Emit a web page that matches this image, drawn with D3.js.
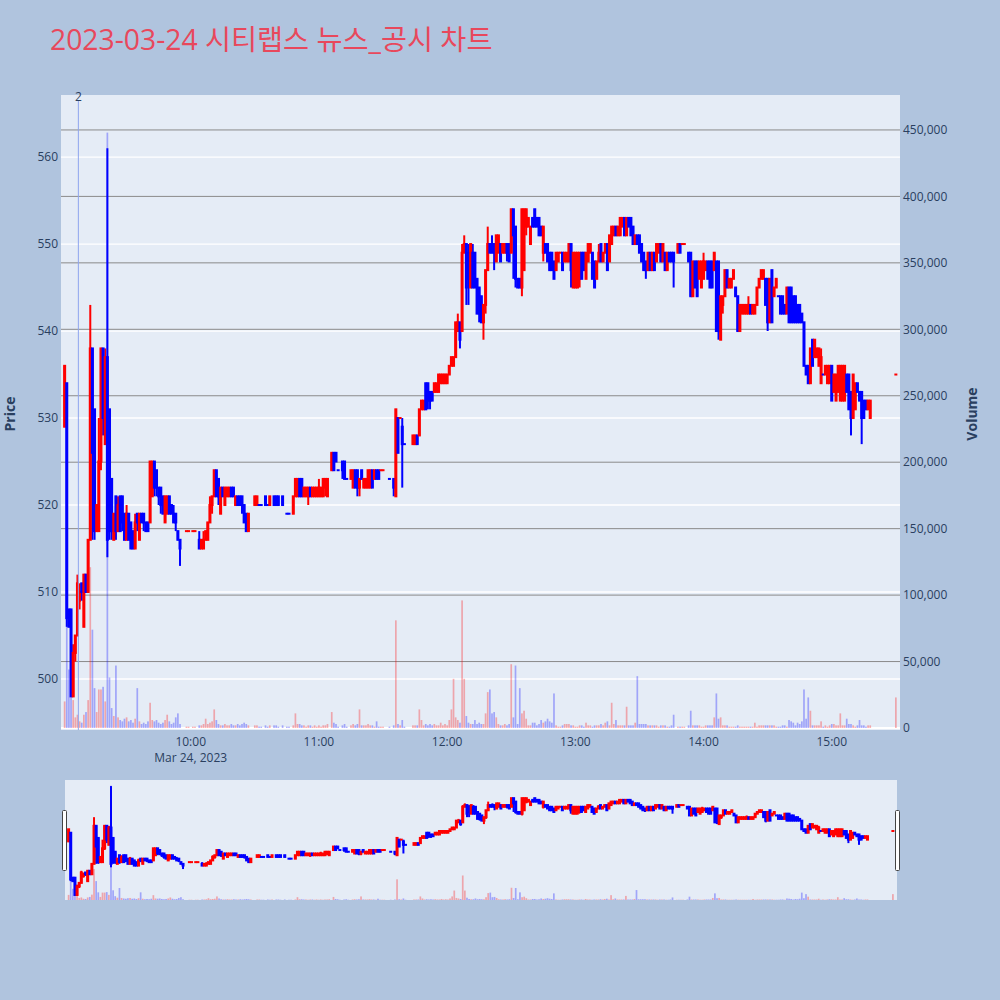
<!DOCTYPE html>
<html>
<head>
<meta charset="utf-8">
<script src="https://cdn.jsdelivr.net/npm/d3@7"></script>
<style>
  html, body { margin: 0; padding: 0; background: #b0c4de; }
  svg { display: block; font-family: "Open Sans", "Noto Sans CJK KR", sans-serif; }
</style>
</head>
<body>
<svg id="chart" width="1000" height="1000"></svg>
<script>
// ---------------- DATA ----------------
const chartTitle = "2023-03-24 시티랩스 뉴스_공시 차트";
const tradeDate = "2023-03-24";

const times = [
  "09:01","09:02","09:03","09:04","09:05","09:06","09:07","09:08","09:09","09:10",
  "09:11","09:12","09:13","09:14","09:15","09:16","09:17","09:18","09:19","09:20",
  "09:21","09:22","09:23","09:24","09:25","09:26","09:27","09:28","09:29","09:30",
  "09:31","09:32","09:33","09:34","09:35","09:36","09:37","09:38","09:39","09:40",
  "09:41","09:42","09:43","09:44","09:45","09:46","09:47","09:48","09:49","09:50",
  "09:51","09:52","09:53","09:54","09:55","09:58","09:59","10:01","10:02","10:04",
  "10:05","10:06","10:07","10:08","10:09","10:10","10:11","10:12","10:13","10:14",
  "10:15","10:16","10:17","10:18","10:19","10:20","10:21","10:22","10:23","10:24",
  "10:25","10:26","10:27","10:30","10:31","10:32","10:33","10:35","10:36","10:37",
  "10:39","10:40","10:41","10:43","10:45","10:46","10:48","10:49","10:50","10:51",
  "10:52","10:53","10:54","10:55","10:56","10:57","10:58","10:59","11:00","11:01",
  "11:02","11:03","11:04","11:06","11:07","11:08","11:09","11:11","11:12","11:13",
  "11:15","11:16","11:17","11:18","11:19","11:20","11:21","11:22","11:23","11:24",
  "11:25","11:26","11:27","11:28","11:29","11:30","11:33","11:35","11:36","11:37",
  "11:38","11:39","11:40","11:44","11:45","11:46","11:47","11:48","11:49","11:50",
  "11:51","11:52","11:53","11:54","11:55","11:56","11:57","11:58","11:59","12:00",
  "12:01","12:02","12:03","12:04","12:05","12:06","12:07","12:08","12:09","12:10",
  "12:11","12:12","12:13","12:14","12:15","12:16","12:17","12:18","12:19","12:20",
  "12:21","12:22","12:23","12:24","12:25","12:26","12:27","12:28","12:29","12:30",
  "12:31","12:32","12:33","12:34","12:35","12:36","12:37","12:38","12:39","12:40",
  "12:41","12:42","12:43","12:44","12:45","12:46","12:47","12:48","12:49","12:50",
  "12:51","12:52","12:53","12:54","12:55","12:56","12:57","12:58","12:59","13:00",
  "13:01","13:02","13:03","13:04","13:05","13:06","13:07","13:08","13:09","13:10",
  "13:11","13:12","13:13","13:14","13:15","13:16","13:17","13:18","13:19","13:20",
  "13:21","13:22","13:23","13:24","13:25","13:26","13:27","13:28","13:29","13:30",
  "13:31","13:32","13:33","13:34","13:35","13:36","13:37","13:38","13:39","13:40",
  "13:41","13:42","13:43","13:44","13:45","13:46","13:48","13:49","13:50","13:51",
  "13:53","13:54","13:55","13:56","13:57","13:58","13:59","14:00","14:01","14:02",
  "14:03","14:04","14:05","14:06","14:07","14:08","14:09","14:10","14:11","14:12",
  "14:13","14:14","14:15","14:16","14:17","14:18","14:19","14:20","14:21","14:22",
  "14:23","14:24","14:25","14:26","14:27","14:28","14:29","14:30","14:31","14:32",
  "14:33","14:34","14:35","14:36","14:37","14:38","14:39","14:40","14:41","14:42",
  "14:43","14:44","14:45","14:46","14:47","14:48","14:49","14:50","14:51","14:52",
  "14:53","14:54","14:55","14:56","14:57","14:58","14:59","15:00","15:01","15:02",
  "15:03","15:04","15:05","15:06","15:07","15:08","15:09","15:10","15:11","15:12",
  "15:13","15:14","15:15","15:16","15:17","15:18","15:30"
];

const open = [
  529,534,508,508,498,503,505,509,511,506,
  512,510,516,538,531,517,517,525,538,527,
  537,531,523,516,521,517,521,521,519,516,
  519,518,517,515,519,516,519,519,518,518,
  518,521,525,524,522,522,521,518,519,521,
  520,519,519,517,516,517,517,517,517,516,
  515,515,516,516,518,520,521,524,523,519,
  522,520,521,521,522,522,520,521,521,521,
  520,519,517,520,520,520,520,521,520,520,
  521,521,521,521,519,519,519,521,521,523,
  523,521,521,521,522,521,521,521,521,521,
  521,522,521,524,526,526,524,525,525,523,
  523,522,524,524,522,524,522,522,522,522,
  524,523,524,524,524,524,523,523,521,530,
  530,529,527,527,527,528,528,531,531,534,
  534,533,533,533,533,533,534,534,534,534,
  535,536,536,537,540,541,540,549,550,549,
  545,549,549,546,545,544,541,543,547,550,
  550,550,548,549,550,549,549,550,550,549,
  554,552,546,546,545,547,552,552,550,553,
  554,553,553,552,549,550,550,549,549,548,
  547,548,549,549,548,548,548,550,545,545,
  545,546,549,549,546,548,549,549,548,546,
  548,550,548,549,550,548,550,551,552,551,
  551,552,553,551,553,553,552,550,551,551,
  550,549,548,547,549,547,549,548,549,550,
  548,549,547,549,549,549,549,550,550,550,
  549,549,544,548,548,546,545,546,547,548,
  548,548,547,548,548,539,543,544,547,545,
  545,546,545,544,540,542,542,542,542,543,
  542,542,543,545,546,546,546,546,541,547,
  544,545,544,544,544,543,542,545,545,544,
  544,543,543,542,541,536,536,534,539,537,
  537,536,534,535,535,534,534,536,533,532,
  533,532,532,532,535,535,533,530,531,534,
  533,533,532,532,531,530,535
];

const high = [
  536,534,508,508,504,505,512,511,511,512,
  512,516,543,538,531,520,530,538,538,538,
  561,531,523,519,521,521,521,521,519,520,
  519,518,517,519,519,519,519,519,518,518,
  525,525,525,524,522,522,521,521,521,521,
  520,520,519,517,516,517,517,517,517,517,
  516,517,517,518,521,521,524,524,523,522,
  522,522,522,522,522,522,521,521,521,521,
  520,519,519,521,521,520,520,521,520,521,
  521,521,521,521,519,519,521,523,523,523,
  523,522,522,522,522,522,522,522,523,522,
  523,523,523,526,526,526,524,525,525,523,
  524,524,524,524,523,524,523,523,524,524,
  524,524,524,524,524,524,523,523,531,530,
  530,530,527,528,528,528,531,532,532,534,
  534,533,533,534,534,535,535,535,535,535,
  536,537,537,541,542,541,550,551,550,550,
  550,550,549,546,545,544,543,547,552,550,
  551,550,551,551,550,550,550,550,550,554,
  554,552,546,546,554,554,554,553,552,553,
  554,553,553,552,552,550,550,549,549,548,
  549,549,549,549,549,549,550,550,549,549,
  549,549,549,549,549,550,550,549,548,548,
  550,550,549,550,550,551,552,552,552,552,
  553,553,553,553,553,553,552,551,551,551,
  550,549,548,549,549,549,549,550,550,550,
  550,549,549,549,549,549,550,550,550,550,
  549,549,548,548,548,548,548,549,548,548,
  548,548,549,548,548,544,544,547,547,546,
  546,547,545,544,543,543,543,543,544,543,
  543,543,545,546,547,547,546,546,546,547,
  545,546,544,544,544,543,545,545,545,544,
  544,543,543,542,541,536,536,538,539,539,
  538,538,538,535,536,536,536,536,535,535,
  536,536,536,536,535,535,533,535,534,534,
  533,533,532,532,532,532,535
];

const low = [
  529,506,506,498,498,502,505,508,509,506,
  510,510,516,516,516,517,517,524,528,527,
  514,516,516,516,516,517,517,517,516,516,
  516,515,515,515,517,516,518,517,517,517,
  518,521,521,521,520,519,519,518,519,519,
  519,518,517,516,513,517,517,517,517,515,
  515,515,516,516,518,519,521,521,520,519,
  521,520,521,521,521,521,520,520,520,519,
  518,517,517,520,520,520,520,520,520,520,
  520,520,520,520,519,519,519,521,521,521,
  521,521,521,520,521,521,521,521,521,521,
  521,521,521,524,524,525,524,523,523,523,
  523,522,522,521,521,523,522,522,522,522,
  522,523,523,523,524,524,523,521,521,526,
  530,522,527,527,527,527,528,531,531,531,
  531,531,532,533,533,533,534,534,534,534,
  535,536,536,537,540,538,540,549,543,543,
  545,545,545,542,541,541,539,542,547,549,
  549,547,548,549,548,549,549,548,548,549,
  546,545,545,545,544,547,551,552,550,552,
  552,552,551,551,548,549,548,547,547,546,
  547,548,549,547,548,548,548,545,545,545,
  545,545,546,547,546,548,549,546,545,546,
  548,548,548,549,547,548,550,551,551,551,
  551,552,551,551,552,551,550,550,550,549,
  548,547,546,547,547,547,547,548,549,548,
  548,547,547,548,548,545,549,549,550,550,
  548,544,544,545,544,546,545,546,547,546,
  545,545,547,540,539,539,542,544,545,545,
  545,546,544,540,540,542,542,542,542,542,
  542,542,543,545,546,546,543,540,541,541,
  544,545,544,542,542,542,542,541,541,541,
  541,541,541,541,536,535,534,534,536,537,
  537,536,534,535,535,534,534,532,533,532,
  533,532,532,532,533,531,528,530,531,533,
  532,527,530,531,531,530,535
];

const close = [
  536,507,506,498,503,505,511,510,510,512,
  510,516,538,526,517,520,525,538,530,537,
  516,517,517,519,517,520,517,518,516,519,
  516,515,515,518,518,519,518,518,517,517,
  525,525,522,522,521,520,519,521,521,519,
  519,518,518,516,515,517,517,517,517,515,
  516,516,517,518,520,521,524,521,521,522,
  521,522,522,522,521,521,521,520,520,520,
  518,517,519,521,521,520,520,520,520,521,
  520,520,520,520,519,519,521,523,523,521,
  521,522,522,522,521,522,522,522,522,522,
  523,523,523,526,524,525,524,524,523,523,
  524,524,522,522,523,523,523,523,524,524,
  522,524,523,523,524,524,523,522,531,526,
  530,527,527,528,528,527,531,532,532,531,
  532,532,532,534,534,535,535,535,535,535,
  536,537,537,541,541,539,549,550,545,546,
  550,545,545,542,542,541,543,547,550,549,
  549,549,551,551,548,550,550,549,548,554,
  551,546,545,545,554,554,554,553,552,552,
  552,552,551,551,552,549,548,547,547,546,
  549,549,549,547,549,549,550,547,549,549,
  549,549,546,547,549,550,550,546,545,548,
  549,548,549,550,547,551,552,552,551,552,
  553,553,551,553,552,551,550,551,550,549,
  548,547,547,549,547,549,547,550,550,548,
  550,547,549,548,548,548,550,549,550,550,
  548,544,548,545,544,548,548,548,548,546,
  545,545,549,540,540,544,544,547,545,546,
  546,547,544,540,543,543,543,543,543,542,
  543,543,545,546,547,547,543,541,546,541,
  545,546,544,542,542,542,545,541,541,541,
  541,541,541,541,536,535,534,538,536,539,
  538,538,537,535,536,536,536,532,535,535,
  536,536,536,536,533,531,530,535,534,533,
  532,530,530,531,532,532,535
];

const volume = [
  20000,113000,44000,23000,21000,8000,10000,5000,4000,10000,
  12000,21000,121000,74000,30000,12000,29000,29000,31000,20000,
  448000,38000,15000,9000,47000,8000,6000,5000,7000,8000,
  5000,6000,4000,7000,30000,5000,3000,4000,3000,5000,
  19000,6000,5000,6000,4000,3000,4000,6000,10000,5000,
  3000,4000,8000,11000,3000,1000,1000,1000,1000,2000,
  2000,3000,7000,3000,4000,5000,14000,6000,3000,2000,
  2000,3000,2000,2000,3000,2000,2000,3000,2000,3000,
  4000,3000,2000,2000,2000,1000,1000,2000,1000,2000,
  2000,2000,1000,2000,1000,1000,2000,11000,3000,3000,
  2000,2000,1000,2000,2000,1000,2000,1000,2000,1000,
  2000,2000,3000,12000,4000,3000,1000,2000,3000,1000,
  2000,3000,2000,3000,14000,2000,2000,2000,3000,2000,
  2000,1000,5000,1000,1000,1000,1000,2000,81000,3000,
  2000,6000,1000,2000,2000,2000,14000,6000,2000,3000,
  2000,3000,2000,3000,2000,2000,4000,2000,3000,2000,
  6000,14000,37000,8000,6000,4000,96000,37000,9000,4000,
  3000,3000,6000,3000,4000,3000,3000,11000,27000,29000,
  11000,12000,8000,3000,2000,2000,3000,2000,3000,48000,
  8000,47000,3000,30000,11000,13000,7000,2000,2000,4000,
  4000,2000,3000,6000,4000,5000,7000,5000,4000,26000,
  2000,1000,1000,2000,3000,3000,3000,2000,2000,1000,
  1000,2000,2000,1000,4000,2000,2000,1000,2000,2000,
  2000,3000,2000,4000,5000,2000,19000,3000,6000,2000,
  2000,2000,2000,16000,2000,2000,2000,4000,39000,3000,
  3000,3000,3000,2000,2000,2000,2000,2000,1000,2000,
  2000,2000,1000,1000,2000,10000,1000,1000,1000,1000,
  2000,13000,2000,2000,2000,2000,1000,1000,2000,2000,
  2000,2000,8000,26000,7000,8000,2000,2000,2000,1000,
  1000,1000,1000,2000,1000,1000,1000,1000,1000,1000,
  1000,4000,1000,2000,2000,2000,2000,2000,2000,2000,
  2000,1000,1000,1000,2000,2000,1000,6000,5000,4000,
  2000,4000,3000,5000,29000,7000,23000,13000,2000,2000,
  2000,2000,5000,1000,2000,1000,2000,3000,3000,2000,
  2000,11000,2000,2000,7000,3000,3000,2000,1000,2000,
  6000,2000,2000,1000,2000,2000,23000
];

const newsTimes = ["09:07:25"];
const newsLabels = ["2"];

const priceTicks = [500, 510, 520, 530, 540, 550, 560];
const volumeTicks = [0, 50000, 100000, 150000, 200000, 250000, 300000, 350000, 400000, 450000];
const timeTicks = ["10:00", "11:00", "12:00", "13:00", "14:00", "15:00"];

// ---------------- DRAWING ----------------
const W = 1000, H = 1000;
const plot = { l: 61, r: 900, t: 95, b: 730 };
const slider = { l: 65, r: 897, t: 780, b: 900 };
const INC = "#ff0000", DEC = "#0000ff";
const txt = "#2a3f5f";

const parseM = d3.timeParse("%Y-%m-%d %H:%M");
const parseS = d3.timeParse("%Y-%m-%d %H:%M:%S");
const dates = times.map(t => parseM(tradeDate + " " + t));

// candle direction (plotly-like: ties resolved with previous close)
const up = [];
for (let i = 0; i < times.length; i++) {
  const o = open[i], c = close[i];
  let u;
  if (c > o) u = true;
  else if (c < o) u = false;
  else if (i > 0 && c > close[i - 1]) u = true;
  else if (i > 0 && c < close[i - 1]) u = false;
  else u = i > 0 ? up[i - 1] : true;
  up.push(u);
}

const xDomain = [parseS(tradeDate + " 08:59:18"), parseS(tradeDate + " 15:31:56")];
const x = d3.scaleTime().domain(xDomain).range([plot.l, plot.r]);
const yP = d3.scaleLinear().domain([494.14, 567.13]).range([plot.b, plot.t]);
const yV = d3.scaleLinear().domain([-1505, 476300]).range([plot.b, plot.t]);

const xs = d3.scaleTime().domain(xDomain).range([slider.l, slider.r]);
const yPs = d3.scaleLinear().domain([495.1, 564.5]).range([slider.b, slider.t]);
const yVs = d3.scaleLinear().domain([0, 470000]).range([slider.b, slider.t]);

const svg = d3.select("#chart");
svg.append("rect").attr("width", W).attr("height", H).attr("fill", "#b0c4de");

// Title
svg.append("text").attr("x", 50).attr("y", 50)
  .attr("font-size", 28.3).attr("fill", "#e8485c").text(chartTitle);

const defs = svg.append("defs");
defs.append("clipPath").attr("id", "clipMain").append("rect")
  .attr("x", plot.l).attr("y", plot.t).attr("width", plot.r - plot.l).attr("height", plot.b - plot.t);
defs.append("clipPath").attr("id", "clipSlider").append("rect")
  .attr("x", slider.l).attr("y", slider.t).attr("width", slider.r - slider.l).attr("height", slider.b - slider.t);

// plot background
svg.append("rect").attr("x", plot.l).attr("y", plot.t)
  .attr("width", plot.r - plot.l).attr("height", plot.b - plot.t).attr("fill", "#e5ecf6");

// Grid: volume (gray) and price (white)
const grid = svg.append("g");
grid.selectAll("line.vg").data(volumeTicks.filter(v => v > 0)).join("line")
  .attr("x1", plot.l).attr("x2", plot.r)
  .attr("y1", d => yV(d)).attr("y2", d => yV(d))
  .attr("stroke", "#8a8a8a").attr("stroke-width", 1);
grid.selectAll("line.pg").data(priceTicks).join("line")
  .attr("x1", plot.l).attr("x2", plot.r)
  .attr("y1", d => yP(d)).attr("y2", d => yP(d))
  .attr("stroke", "#ffffff").attr("stroke-width", 1.3);
// volume zero line
grid.append("line").attr("x1", plot.l).attr("x2", plot.r)
  .attr("y1", yV(0)).attr("y2", yV(0)).attr("stroke", "#ffffff").attr("stroke-width", 2);

function drawSeries(g, xsc, ysc, yvsc) {
  const bw = 1.7;
  g.selectAll("rect.vol").data(dates).join("rect")
    .attr("x", (d) => xsc(d) - bw / 2)
    .attr("y", (d, i) => yvsc(volume[i]))
    .attr("width", bw)
    .attr("height", (d, i) => Math.max(0, yvsc(0) - yvsc(volume[i])))
    .attr("fill", (d, i) => up[i] ? INC : DEC)
    .attr("fill-opacity", 0.3);
  g.selectAll("line.wick").data(dates).join("line")
    .attr("x1", d => xsc(d)).attr("x2", d => xsc(d))
    .attr("y1", (d, i) => ysc(high[i])).attr("y2", (d, i) => ysc(low[i]))
    .attr("stroke", (d, i) => up[i] ? INC : DEC).attr("stroke-width", 2);
  g.selectAll("rect.body").data(dates).join("rect")
    .attr("x", d => xsc(d) - 1.5)
    .attr("y", (d, i) => ysc(Math.max(open[i], close[i])) - 1)
    .attr("width", 3)
    .attr("height", (d, i) => Math.abs(ysc(open[i]) - ysc(close[i])) + 2)
    .attr("fill", (d, i) => up[i] ? INC : DEC);
}

const main = svg.append("g").attr("clip-path", "url(#clipMain)");
drawSeries(main, x, yP, yV);

// news marker
const newsDates = newsTimes.map(t => parseS(tradeDate + " " + t));
svg.selectAll("line.news").data(newsDates).join("line")
  .attr("x1", d => x(d)).attr("x2", d => x(d))
  .attr("y1", 101).attr("y2", plot.b)
  .attr("stroke", "#8ea4ee").attr("stroke-width", 1);
svg.selectAll("text.news").data(newsDates).join("text")
  .attr("x", d => x(d)).attr("y", 101)
  .attr("text-anchor", "middle").attr("font-size", 12).attr("fill", txt)
  .text((d, i) => newsLabels[i]);

// Axes labels
const ax = svg.append("g").attr("font-size", 12).attr("fill", txt);
ax.selectAll("text.yl").data(priceTicks).join("text")
  .attr("x", 58).attr("y", d => yP(d)).attr("dy", "0.35em")
  .attr("text-anchor", "end").text(d => d);
const fmtV = d3.format(",");
ax.selectAll("text.yr").data(volumeTicks).join("text")
  .attr("x", 903).attr("y", d => yV(d)).attr("dy", "0.35em")
  .attr("text-anchor", "start").text(d => fmtV(d));
const tickDates = timeTicks.map(t => parseM(tradeDate + " " + t));
const fmtT = d3.timeFormat("%H:%M");
ax.selectAll("text.xl").data(tickDates).join("text")
  .attr("x", d => x(d)).attr("y", 746)
  .attr("text-anchor", "middle").text(d => fmtT(d));
ax.append("text").attr("x", x(tickDates[0])).attr("y", 762)
  .attr("text-anchor", "middle").text(d3.timeFormat("%b %-d, %Y")(tickDates[0]));

// Axis titles
svg.append("text").attr("transform", "translate(15,414) rotate(-90)")
  .attr("text-anchor", "middle").attr("font-size", 14).attr("font-weight", "bold")
  .attr("fill", txt).text("Price");
svg.append("text").attr("transform", "translate(977,414) rotate(-90)")
  .attr("text-anchor", "middle").attr("font-size", 14).attr("font-weight", "bold")
  .attr("fill", txt).text("Volume");

// Range slider
svg.append("rect").attr("x", slider.l).attr("y", slider.t)
  .attr("width", slider.r - slider.l).attr("height", slider.b - slider.t).attr("fill", "#e5ecf6");
const sl = svg.append("g").attr("clip-path", "url(#clipSlider)");
drawSeries(sl, xs, yPs, yVs);
[slider.l - 2.5, slider.r - 1.5].forEach(hx => {
  svg.append("rect").attr("x", hx).attr("y", 810.5).attr("width", 4).attr("height", 60)
    .attr("fill", "#ffffff").attr("stroke", "#444").attr("stroke-width", 1).attr("rx", 1);
});
</script>
</body>
</html>
